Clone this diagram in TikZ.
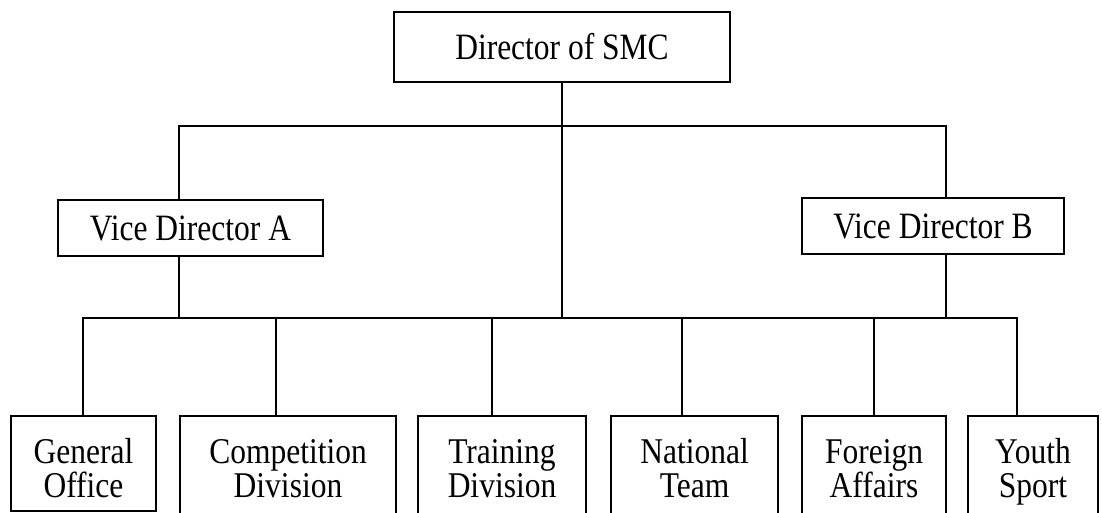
\documentclass[tikz,border=0pt]{standalone}
\usepackage{fontspec}
\setmainfont{Liberation Serif}
\newcommand\vstretch[1]{\scalebox{1}[1.18]{#1}}
\newcommand\twoline[2]{\scalebox{1}[1.15]{\parbox[t]{220pt}{\centering\lineskiplimit=-100pt\baselineskip=29.6pt #1\\#2}}}
\begin{document}
\begin{tikzpicture}[x=1pt,y=-1pt,
  every node/.style={font=\fontsize{31.5}{29.6}\selectfont},
  box/.style={draw, line width=2.2pt, inner sep=0pt, text height=25pt, text depth=0pt},
  unit/.style={draw, line width=2.2pt, inner sep=0pt, anchor=north},
  lbl/.style={inner sep=0pt, anchor=base},
  conn/.style={line width=2.2pt, line cap=rect}]
\useasboundingbox (0,0) rectangle (1102,513);
\clip (0,0) rectangle (1102,513);
% top level
\node[box, minimum width=336, minimum height=70] (dir) at (562,47) {\vstretch{Director of SMC}};
\node[box, minimum width=265, minimum height=56] (vda) at (190.5,228) {\vstretch{Vice Director A}};
\node[box, minimum width=262, minimum height=56] (vdb) at (933,226) {\vstretch{Vice Director B}};
% bottom units
\node[unit, minimum width=145, minimum height=95] (go) at (83.5,415) {};
\node[unit, minimum width=216, minimum height=120] (cd) at (288,415) {};
\node[unit, minimum width=168, minimum height=120] (td) at (502,415) {};
\node[unit, minimum width=167, minimum height=120] (nt) at (694.5,415) {};
\node[unit, minimum width=144, minimum height=120] (fa) at (874,415) {};
\node[unit, minimum width=130, minimum height=120] (ys) at (1033,415) {};
\node[lbl] (got) at (83.5,463) {\twoline{General}{Office}};
\node[lbl] (cdt) at (288,463) {\twoline{Competition}{Division}};
\node[lbl] (tdt) at (502,463) {\twoline{Training}{Division}};
\node[lbl] (ntt) at (694.5,463) {\twoline{National}{Team}};
\node[lbl] (fat) at (874,463) {\twoline{Foreign}{Affairs}};
\node[lbl] (yst) at (1033,463) {\twoline{Youth}{Sport}};
% bus points
\coordinate (ub) at (562,126);
\coordinate (lb) at (562,318);
% connectors
\draw[conn] (dir.south) -- (lb);
\draw[conn] (vda.north -| 179,0) |- (ub) -| (vdb.north -| 946,0);
\draw[conn] (go.north -| 83,0) |- (lb) -| (ys.north -| 1017,0);
\draw[conn] (vda.south -| 179,0) -- (lb -| 179,0);
\draw[conn] (vdb.south -| 946,0) -- (lb -| 946,0);
\draw[conn] (lb -| 276,0) -- (cd.north -| 276,0);
\draw[conn] (lb -| 492,0) -- (td.north -| 492,0);
\draw[conn] (lb -| 682,0) -- (nt.north -| 682,0);
\draw[conn] (lb -| 874,0) -- (fa.north -| 874,0);
\end{tikzpicture}
\end{document}
